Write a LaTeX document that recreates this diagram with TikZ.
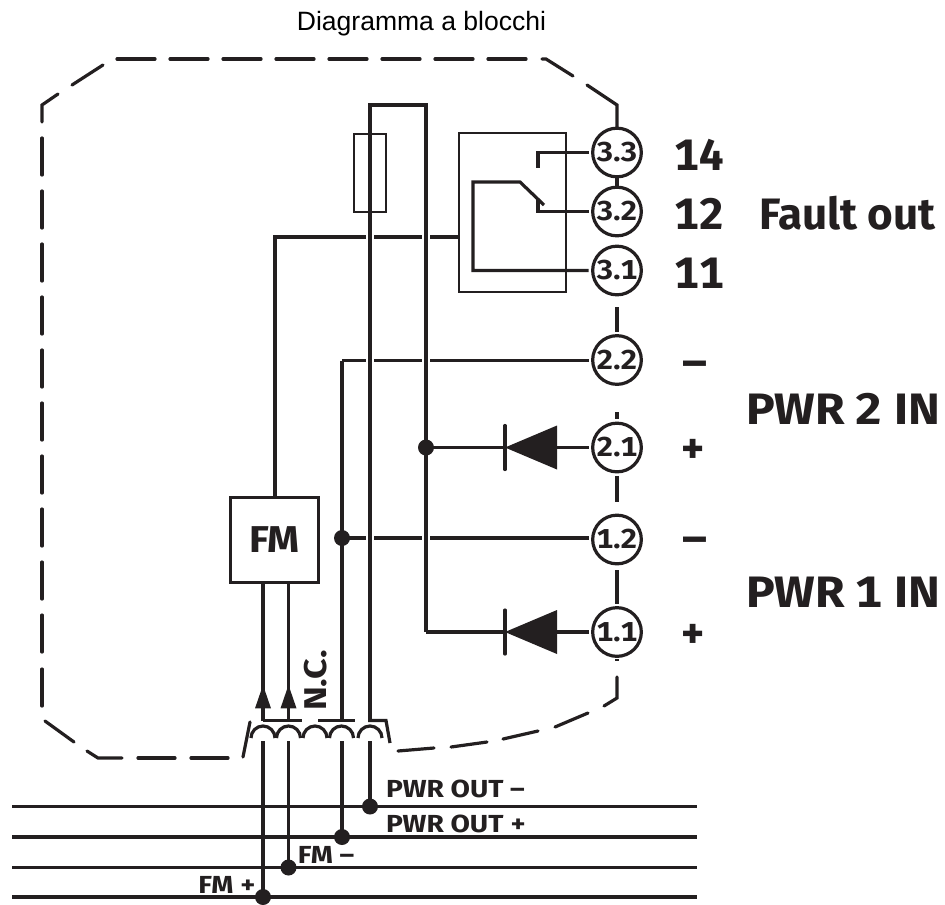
\documentclass[tikz,border=0pt]{standalone}
\usepackage{fontspec}
\setmainfont{Liberation Sans}
\newfontfamily\labfont[Numbers=Monospaced]{Fira Sans}
\newfontfamily\labmid[Numbers=Monospaced,FakeStretch=1.09]{Fira Sans}
\newfontfamily\labwide[Numbers=Monospaced,FakeStretch=1.14]{Fira Sans}
\definecolor{ink}{HTML}{231F20}
\newcommand{\lb}[1]{\labfont\bfseries\fontsize{#1}{#1}\selectfont}
\newcommand{\lbm}[1]{\labmid\bfseries\fontsize{#1}{#1}\selectfont}
\newcommand{\lbw}[1]{\labwide\bfseries\fontsize{#1}{#1}\selectfont}
\tikzset{
  x=0.75pt,y=-0.75pt,
  wire/.style={draw=ink,line width=2.4pt,line join=miter},
  thin wire/.style={draw=ink,line width=1.7pt},
  halo wire/.style={wire,preaction={draw=white,line width=6pt}},
  dashseg/.style={draw=ink,line width=2.4pt,line cap=round,line join=miter},
  term/.style={circle,draw=ink,line width=2.4pt,fill=white,minimum size=36.5pt,inner sep=0pt,outer sep=3pt,text=ink,font=\lbm{20.5}},
  lab/.style={inner sep=0pt,text=ink,anchor=base},
  dot/.style={circle,fill=ink,draw=none,minimum size=12pt,inner sep=0pt,outer sep=0pt},
  blackhead/.style={fill=ink,draw=none},
}
\begin{document}
\begin{tikzpicture}
\useasboundingbox (0,0) rectangle (945,904);

\node[inner sep=0pt,text=black,anchor=base,font=\fontsize{19.9}{22}\selectfont] (title) at (421.5,30) {Diagramma a blocchi};

% enclosure, dashed outline
\foreach \x in {117,170,223,276,329,382,435,488}
  \draw[dashseg] (\x,59) -- ++(38,0);
\draw[dashseg] (542,59) -- (546,59) -- (573,76);
\draw[dashseg] (587,85) -- (617,105) -- (617,128);
\draw[dashseg] (42,122) -- (42,105) -- (58,94);
\draw[dashseg] (72,85) -- (103,65);
\foreach \y in {138,191,244,297,350,403,456,509,562,615,669}
  \draw[dashseg] (42,\y) -- ++(0,37);
\draw[dashseg] (45,721) -- (74,742);
\draw[dashseg] (87,751) -- (98,758) -- (122,758);
\draw[dashseg] (138,758) -- (175,758);
\draw[dashseg] (191,758) -- (228,758);
\draw[dashseg] (398,751) -- (434,748);
\draw[dashseg] (451,747) -- (487,742);
\draw[dashseg] (503,739) -- (538,731);
\draw[dashseg] (555,727) -- (588,713);
\draw[dashseg] (604,706) -- (617,698) -- (617,677);

% terminals
\node[term] (t33) at (617,152.5) {3.3};
\node[term] (t32) at (617,211.5) {3.2};
\node[term] (t31) at (617,270.5) {3.1};
\node[term] (t22) at (617,360) {2.2};
\node[term] (t21) at (617,447.5) {2.1};
\node[term] (t12) at (617,539.5) {1.2};
\node[term] (t11) at (617,632) {1.1};

% stubs between terminals
\coordinate (s1) at (617,307);
\coordinate (s3) at (617,502);
\coordinate (s4) at (617,570);
\draw[wire] (617,178) -- (617,187);
\draw[wire] (617,307) -- (t22.north);
\draw[wire] (617,412) -- (t21.north);
\draw[wire] (t21.south) -- (s3);
\draw[wire] (s4) -- (t11.north);
\draw[wire] (617,659) -- (617,661);

% boxes
\node[draw=ink,line width=2.4pt,minimum width=66.5pt,minimum height=64pt,inner sep=0pt,outer sep=0pt,text=ink,font=\lbm{28}] (fm) at (274.5,540) {FM};
\node[thin wire,minimum width=80pt,minimum height=119pt,inner sep=0pt,outer sep=0pt] (relay) at (512.5,212.5) {};

% horizontal wires (crossed with gaps)
\coordinate (n22) at (342,360.5);
\coordinate (n12) at (342,538);
\coordinate (c1) at (275,237);
\draw[wire] (relay.west |- c1) -- (c1) -- (c1 |- fm.north);
\draw[wire] (n22) -- (t22.west |- n22);
\draw[wire] (n12) -- (t12.west |- n12);

% feed wires
\coordinate (top1) at (370,105);
\coordinate (top2) at (426,105);
\coordinate (j21) at (426,447.5);
\coordinate (e11) at (426,632);
\coordinate (ca) at (370,720);
\coordinate (cb) at (342,720);
\draw[halo wire] (ca) -- (top1) -- (top2) -- (e11);
\draw[wire] (n22) -- (cb);

% fuse
\node[thin wire,minimum width=24pt,minimum height=58.5pt,inner sep=0pt,outer sep=0pt] (fuse) at (370,173) {};

% diodes
\coordinate (d2t) at (505,447.5);
\coordinate (d2b) at (557,447.5);
\coordinate (d1t) at (505,632);
\coordinate (d1b) at (557,632);
\draw[wire] (j21) -- (d2t);
\draw[wire] (d2b) -- (t21.west);
\draw[wire] (e11) -- (d1t);
\draw[wire] (d1b) -- (t11.west);
\foreach \t/\b in {d2t/d2b,d1t/d1b}{
  \fill[blackhead] (\t) -- ([yshift=16.5pt]\b) -- ([yshift=-16.5pt]\b) -- cycle;
  \draw[dashseg] ([yshift=16.5pt]\t) -- ([yshift=-16.5pt]\t);
}
\node[dot] (dj21) at (j21) {};
\node[dot] (dj12) at (n12) {};

% relay contact
\coordinate (r1) at (538,152.5);
\coordinate (r2) at (538,211.5);
\coordinate (r3) at (473,270.5);
\coordinate (r4) at (473,182);
\coordinate (r5) at (520,182);
\coordinate (r6) at (544,205);
\draw[wire] (t33.west) -- (r1) -- (538,168);
\draw[wire] (t32.west) -- (r2) -- (538,200);
\draw[wire] (t31.west) -- (r3) -- (r4) -- (r5) -- (r6);

% coil connector
\foreach \x in {263,288.5,315,341.5,370}
  \draw[wire] (\x-12,738) arc[start angle=180,end angle=360,radius=12];
\draw[wire] (263,720.5) -- (302,720.5);
\draw[wire] (318,720.5) -- (355,720.5);
\draw[wire] (368,720.5) -- (386,720.5) -- (390,743);
\draw[dashseg] (250,722) -- (243,757);

% input wires with arrows
\coordinate (f1) at (263,583);
\coordinate (f2) at (288.5,583);
\foreach \c in {f1,f2}{
  \draw[wire] (\c) -- ([yshift=-103.5pt]\c);
  \fill[blackhead] ([yshift=-76.5pt]\c) -- ++(-6pt,-17.5pt) -- ++(12pt,0) -- cycle;
}

% bus
\foreach \y/\n in {806.5/b1,837/b2,867.5/b3,897/b4}{
  \coordinate (\n l) at (12,\y);
  \coordinate (\n r) at (697,\y);
  \draw[wire] (\n l) -- (\n r);
}
\coordinate (b1j) at (370,806.5);
\coordinate (b2j) at (342,837);
\coordinate (b3j) at (288.5,867.5);
\coordinate (b4j) at (263,897);
\draw[wire] (370,741) -- (b1j);
\draw[wire] (342,741) -- (b2j);
\draw[wire] (288.5,741) -- (b3j);
\draw[wire] (263,741) -- (b4j);
\node[dot] (db1) at (b1j) {};
\node[dot] (db2) at (b2j) {};
\node[dot] (db3) at (b3j) {};
\node[dot] (db4) at (b4j) {};

% labels
\node[lab,font=\lb{33}] (l14) at (699,170) {14};
\node[lab,font=\lb{33}] (l12) at (699,229) {12};
\node[lab,font=\lb{33}] (l11) at (699,288) {11};
\node[lab,font=\lb{33}] (lfault) at (847.5,229) {Fault out};
\node[lab,font=\lbm{33}] (lp2) at (843,424) {PWR 2 IN};
\node[lab,font=\lbm{33}] (lp1) at (843,607) {PWR 1 IN};
\node[inner sep=0pt,text=ink,font=\lbm{33}] (m2) at (694.5,369) {–};
\node[inner sep=0pt,text=ink,font=\lb{33}] (p2) at (693,451) {+};
\node[inner sep=0pt,text=ink,font=\lbm{33}] (m1) at (694.5,545) {–};
\node[inner sep=0pt,text=ink,font=\lb{33}] (p1) at (693,636) {+};
\node[lab,font=\lbw{18.5}] (pom) at (455.5,797) {PWR OUT –};
\node[lab,font=\lbw{18.5}] (pop) at (456,832) {PWR OUT +};
\node[lab,font=\lbw{18.5}] (fmm) at (326,863) {FM –};
\node[lab,font=\lbw{18.5}] (fmp) at (227,893) {FM +};
\node[inner sep=0pt,text=ink,font=\lbw{23.6},rotate=90] (nc) at (316,680.5) {N.C.};
\end{tikzpicture}
\end{document}
